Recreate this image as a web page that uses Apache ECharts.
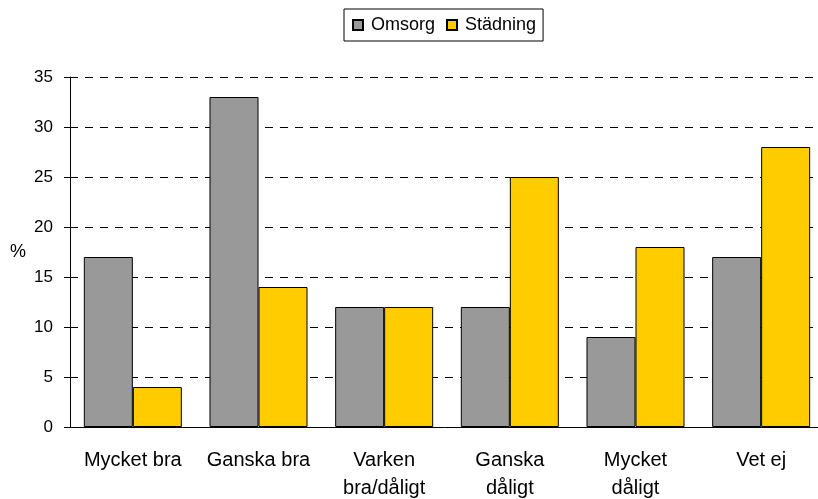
<!DOCTYPE html>
<html>
<head>
<meta charset="utf-8">
<script src="https://cdn.jsdelivr.net/npm/echarts@6/dist/echarts.min.js"></script>
<style>
  html, body { margin: 0; padding: 0; background: #fff; }
  #chart { width: 818px; height: 499px; }
</style>
</head>
<body>
<div id="chart"></div>
<script>
// data
var categories = ['Mycket bra', 'Ganska bra', 'Varken\nbra/dåligt', 'Ganska\ndåligt', 'Mycket\ndåligt', 'Vet ej'];
var omsorg = [17, 33, 12, 12, 9, 17];
var stadning = [4, 14, 12, 25, 18, 28];

var font = 'Arial, "Liberation Sans", sans-serif';

var myChart = echarts.init(document.getElementById('chart'));

myChart.setOption({
  animation: false,
  textStyle: { fontFamily: font, color: '#000' },
  legend: {
    top: 9,
    left: 344,
    data: ['Omsorg', 'Städning'],
    icon: 'rect',
    itemWidth: 10,
    itemHeight: 10,
    itemGap: 11,
    padding: [7, 7, 7, 8],
    borderColor: '#000',
    borderWidth: 1,
    textStyle: { fontSize: 18, color: '#000', fontFamily: font, padding: [0, 0, 0, 3] }
  },
  grid: { left: 70, top: 77, bottom: 72, right: -6, outerBoundsMode: 'none' },
  xAxis: {
    type: 'category',
    data: categories,
    axisLine: { lineStyle: { color: '#000', width: 1 } },
    axisTick: { length: 6, lineStyle: { color: '#000' } },
    axisLabel: { interval: 0, hideOverlap: false, fontSize: 20, color: '#000', margin: 19, lineHeight: 28, fontFamily: font }
  },
  yAxis: {
    type: 'value',
    min: 0,
    max: 35,
    interval: 5,
    name: '%',
    nameLocation: 'middle',
    nameRotate: 0,
    nameGap: 44,
    nameTextStyle: { fontSize: 18, color: '#000', fontFamily: font },
    axisLine: { show: true, lineStyle: { color: '#000', width: 1 } },
    axisTick: { show: true, length: 6, lineStyle: { color: '#000' } },
    axisLabel: { fontSize: 17, color: '#000', margin: 17, fontFamily: font },
    splitLine: { lineStyle: { color: '#000', type: [8, 7], width: 1 } }
  },
  series: [
    {
      name: 'Omsorg',
      type: 'bar',
      data: omsorg,
      barGap: 0,
      barCategoryGap: '22%',
      itemStyle: { color: '#999999', borderColor: '#000', borderWidth: 1 }
    },
    {
      name: 'Städning',
      type: 'bar',
      data: stadning,
      itemStyle: { color: '#FFCC00', borderColor: '#000', borderWidth: 1 }
    }
  ]
});
</script>
</body>
</html>
